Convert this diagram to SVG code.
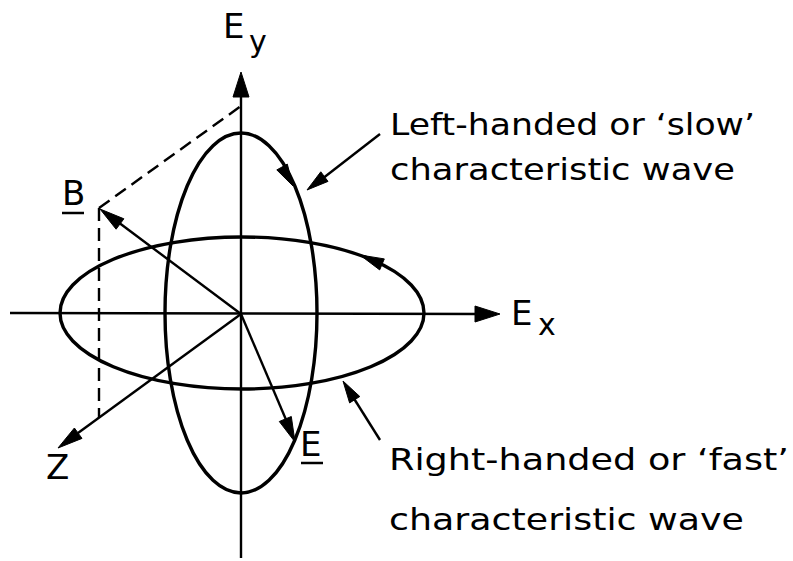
<svg xmlns="http://www.w3.org/2000/svg" width="793" height="561" viewBox="0 0 793 561">
<style>
.ax{stroke:#000;stroke-width:2.4;fill:none}
.el{stroke:#000;stroke-width:3.4;fill:none}
.ds{stroke:#000;stroke-width:2.4;fill:none;stroke-dasharray:13 7}
.hd{fill:#000;stroke:#000;stroke-width:1;stroke-linejoin:round}
text{font-family:"DejaVu Sans","Liberation Sans",sans-serif;fill:#000}
.lb{font-size:31px}
.sym{font-size:34px}
.sub{font-size:30px}
.ul{stroke:#000;stroke-width:2.5}
</style>
<rect width="793" height="561" fill="#fff"/>
<g id="axes">
<line class="ax" x1="10" y1="313" x2="480" y2="314"/>
<polygon class="hd" points="500,314 475,306 475,322"/>
<line class="ax" x1="241" y1="558" x2="241" y2="92"/>
<polygon class="hd" points="241,72 233,97 249,97"/>
<line class="ax" x1="241" y1="314" x2="78" y2="433"/>
<polygon class="hd" points="58,448 82,438.4 74.4,428"/>
</g>
<g id="slow-wave">
<ellipse class="el" cx="241" cy="313" rx="76" ry="180"/>
<polygon class="hd" points="293,186 287.3,164.1 276.8,169.9"/>
</g>
<g id="fast-wave">
<ellipse class="el" cx="242" cy="313" rx="182" ry="76"/>
<polygon class="hd" points="360,255 384.3,258.9 379.7,269.9"/>
</g>
<g id="connectors">
<line class="ds" x1="99" y1="208" x2="241" y2="106"/>
<line class="ds" x1="99" y1="208" x2="99" y2="418"/>
<line class="ax" x1="241" y1="314" x2="118" y2="222"/>
<polygon class="hd" points="100,209 116.1,229.2 123.9,218.8"/>
<line class="ax" x1="241" y1="314" x2="287" y2="422"/>
<polygon class="hd" points="295,442 291.3,416.5 279.3,421.5"/>
<line class="ax" x1="380" y1="134" x2="322" y2="179"/>
<polygon class="hd" points="307,190 328,181.4 320.8,171.8"/>
<line class="ax" x1="380" y1="440" x2="353" y2="397"/>
<polygon class="hd" points="343,381 359.8,396.5 349.6,402.9"/>
</g>
<g id="labels">
<text class="sym" x="223" y="38">E</text>
<text class="sub" x="249" y="52">y</text>
<text class="sym" x="511" y="325">E</text>
<text class="sub" x="538" y="335">x</text>
<text class="sym" x="46" y="479">Z</text>
<text class="sym" x="62" y="205">B</text>
<line class="ul" x1="62" y1="213" x2="84" y2="213"/>
<text class="sym" x="300" y="456">E</text>
<line class="ul" x1="301" y1="463" x2="323" y2="463"/>
</g>
<g id="slow-label">
<text class="lb" x="390" y="135" textLength="365" lengthAdjust="spacingAndGlyphs">Left-handed or ‘slow’</text>
<text class="lb" x="390" y="180" textLength="345" lengthAdjust="spacingAndGlyphs">characteristic wave</text>
</g>
<g id="fast-label">
<text class="lb" x="389" y="470" textLength="400" lengthAdjust="spacingAndGlyphs">Right-handed or ‘fast’</text>
<text class="lb" x="389" y="530" textLength="355" lengthAdjust="spacingAndGlyphs">characteristic wave</text>
</g>
</svg>
